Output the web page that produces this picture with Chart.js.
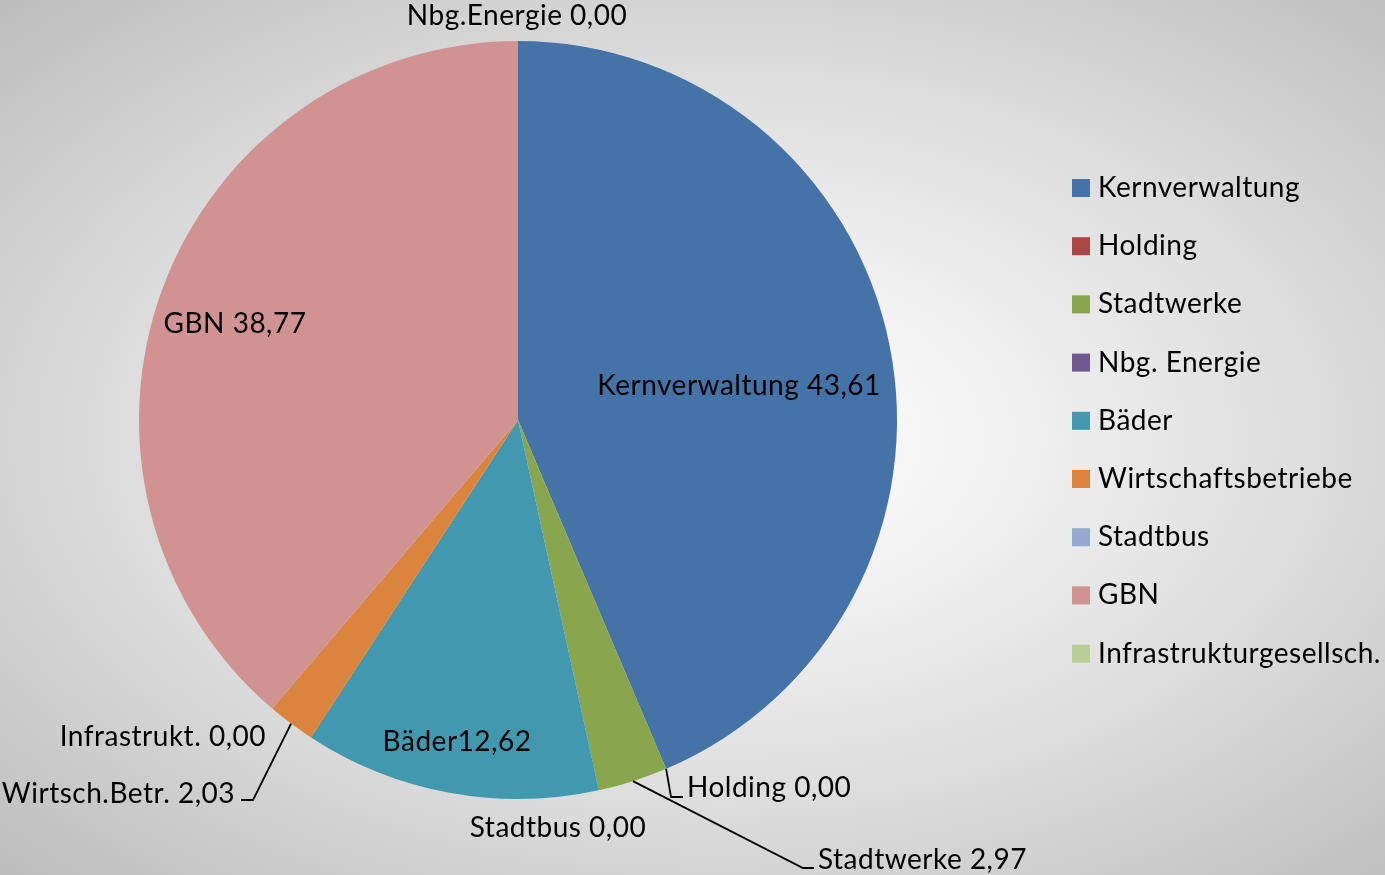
<!DOCTYPE html>
<html>
<head>
<meta charset="utf-8">
<script src="https://cdn.jsdelivr.net/npm/chart.js@4.4.0/dist/chart.umd.min.js"></script>
<style>
  html, body { margin: 0; padding: 0; }
  body {
    width: 1385px; height: 875px; overflow: hidden;
    background: radial-gradient(ellipse farthest-corner at 52% 50%, #ffffff 0%, #f3f3f3 25%, #dcdcdc 60%, #bdbdbd 100%);
  }
  #wrap { width: 1385px; height: 875px; position: relative; }
</style>
</head>
<body>
<div id="wrap"><canvas id="c" width="1385" height="875"></canvas></div>
<script>
// ---- data ----
const categories = ['Kernverwaltung', 'Holding', 'Stadtwerke', 'Nbg. Energie', 'Bäder', 'Wirtschaftsbetriebe', 'Stadtbus', 'GBN', 'Infrastrukturgesellsch.'];
const values = [43.61, 0.00, 2.97, 0.00, 12.62, 2.03, 0.00, 38.77, 0.00];
const sliceLabelNames = ['Kernverwaltung', 'Holding', 'Stadtwerke', 'Nbg.Energie', 'Bäder', 'Wirtsch.Betr.', 'Stadtbus', 'GBN', 'Infrastrukt.'];
const sliceLabelSeparators = [' ', ' ', ' ', ' ', '', ' ', ' ', ' ', ' '];
const colors = ['#4572A7', '#AA4643', '#89A54E', '#71588F', '#4198AF', '#DB843D', '#93A9CF', '#D19392', '#B9CD96'];

// ---- layout (text placement, not marks) ----
const FONT = 'Lato, "Open Sans", sans-serif';
const FONT_SIZE = 28;
const LETTER_SPACING = '0.5px';
const labelLayout = [
  { x: 739, y: 386, align: 'center' },
  { x: 687, y: 788, align: 'left', leader: [[671, 797], [683, 797]] },
  { x: 818, y: 860, align: 'left', leader: [[803, 868], [814, 868]] },
  { x: 517, y: 16, align: 'center' },
  { x: 457, y: 742, align: 'center' },
  { x: 235, y: 794, align: 'right', leader: [[253, 800], [241, 800]] },
  { x: 558, y: 828, align: 'center' },
  { x: 235, y: 324, align: 'center' },
  { x: 266, y: 737, align: 'right' }
];
const legendLayout = { boxX: 1072, textX: 1098, firstY: 188, step: 58.2, box: 18 };

function fmt(v) { return v.toFixed(2).replace('.', ','); }

const labelPlugin = {
  id: 'sliceLabels',
  afterDatasetsDraw(chart) {
    const ctx = chart.ctx;
    const meta = chart.getDatasetMeta(0);
    ctx.save();
    ctx.font = FONT_SIZE + 'px ' + FONT;
    if ('letterSpacing' in ctx) ctx.letterSpacing = LETTER_SPACING;
    ctx.fillStyle = '#000';
    ctx.strokeStyle = '#000';
    ctx.lineWidth = 1.8;
    ctx.textBaseline = 'middle';
    meta.data.forEach((arc, i) => {
      const L = labelLayout[i];
      if (L.leader) {
        const mid = (arc.startAngle + arc.endAngle) / 2;
        const sx = arc.x + Math.cos(mid) * arc.outerRadius;
        const sy = arc.y + Math.sin(mid) * arc.outerRadius;
        ctx.beginPath();
        ctx.moveTo(sx, sy);
        L.leader.forEach(p => ctx.lineTo(p[0], p[1]));
        ctx.stroke();
      }
      ctx.textAlign = L.align;
      ctx.fillText(sliceLabelNames[i] + sliceLabelSeparators[i] + fmt(values[i]), L.x, L.y);
    });
    // legend
    categories.forEach((c, i) => {
      const cy = legendLayout.firstY + i * legendLayout.step;
      ctx.fillStyle = colors[i];
      ctx.fillRect(legendLayout.boxX, cy - legendLayout.box / 2, legendLayout.box, legendLayout.box);
      ctx.fillStyle = '#000';
      ctx.textAlign = 'left';
      ctx.fillText(c, legendLayout.textX, cy);
    });
    ctx.restore();
  }
};

new Chart(document.getElementById('c'), {
  type: 'pie',
  data: {
    labels: categories,
    datasets: [{ data: values, backgroundColor: colors, borderWidth: 0 }]
  },
  options: {
    responsive: false,
    animation: false,
    layout: { padding: { left: 139, right: 488, top: 41, bottom: 76 } },
    plugins: { legend: { display: false }, tooltip: { enabled: false } }
  },
  plugins: [labelPlugin]
});
</script>
</body>
</html>
